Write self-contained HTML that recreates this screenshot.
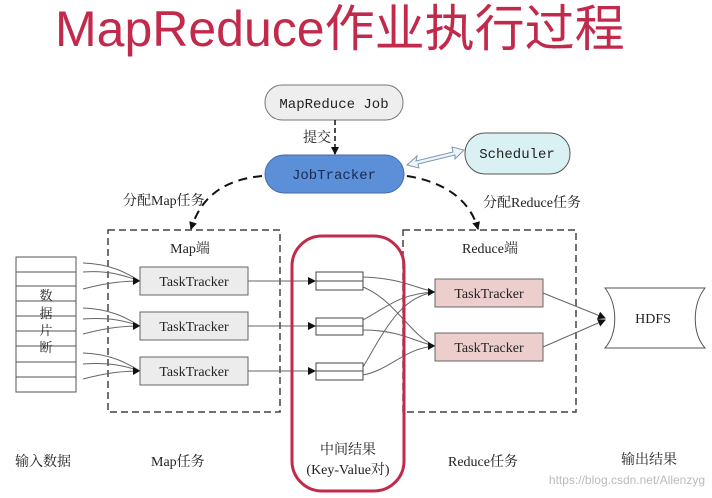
<!DOCTYPE html>
<html><head><meta charset="utf-8"><style>
body{margin:0;background:#fff;width:712px;height:498px;overflow:hidden}
svg{display:block}
text{font-family:"Liberation Serif","Noto Serif CJK SC",serif;fill:#222}
</style></head><body>
<svg width="712" height="498" viewBox="0 0 712 498">
<defs>
<marker id="a" markerWidth="8" markerHeight="8" refX="7" refY="4" orient="auto" markerUnits="userSpaceOnUse"><path d="M0,0L8,4L0,8z" fill="#111"/></marker>
</defs>
<text x="55" y="46" font-size="50" style="font-family:'Liberation Sans','Noto Sans CJK SC',sans-serif;fill:#c22a4c">MapReduce作业执行过程</text>

<rect x="265" y="85" width="138" height="35" rx="17" fill="#eee" stroke="#777"/>
<text x="334" y="108" font-size="14" text-anchor="middle" style="font-family:'Liberation Mono',monospace">MapReduce Job</text>
<line x1="335" y1="120" x2="335" y2="154" stroke="#111" stroke-width="1.5" stroke-dasharray="5,3" marker-end="url(#a)"/>
<text x="303" y="142" font-size="14">提交</text>
<rect x="265" y="155" width="139" height="38" rx="19" fill="#5b8fd8" stroke="#4a6aa8"/>
<text x="334" y="179" font-size="14" text-anchor="middle" style="font-family:'Liberation Mono',monospace;fill:#1a2a50">JobTracker</text>
<rect x="465" y="133" width="105" height="41" rx="20" fill="#d9f1f2" stroke="#555"/>
<text x="517" y="158" font-size="14" text-anchor="middle" style="font-family:'Liberation Mono',monospace">Scheduler</text>
<path d="M407,165 L417,156 L416,161 L453,152 L452,147 L464,150 L455,159 L455,155 L418,164 L419,168 z" fill="#eef4f8" stroke="#7a9ab0"/>
<path d="M262,176 C220,180 200,200 191,229" fill="none" stroke="#111" stroke-width="2" stroke-dasharray="9,6" marker-end="url(#a)"/>
<path d="M407,176 C445,182 470,200 478,229" fill="none" stroke="#111" stroke-width="2" stroke-dasharray="9,6" marker-end="url(#a)"/>
<text x="123" y="205" font-size="14">分配Map任务</text>
<text x="483" y="207" font-size="14">分配Reduce任务</text>

<rect x="108" y="230" width="172" height="182" fill="none" stroke="#444" stroke-width="1.5" stroke-dasharray="7,4"/>
<text x="190" y="253" font-size="14" text-anchor="middle">Map端</text>
<rect x="403" y="230" width="173" height="182" fill="none" stroke="#444" stroke-width="1.5" stroke-dasharray="7,4"/>
<text x="490" y="253" font-size="14" text-anchor="middle">Reduce端</text>

<g stroke="#555" fill="#fff">
<rect x="16" y="257" width="60" height="135"/>
<line x1="16" y1="272" x2="76" y2="272"/><line x1="16" y1="286" x2="76" y2="286"/>
<line x1="16" y1="301" x2="76" y2="301"/><line x1="16" y1="316" x2="76" y2="316"/>
<line x1="16" y1="331" x2="76" y2="331"/><line x1="16" y1="346" x2="76" y2="346"/>
<line x1="16" y1="362" x2="76" y2="362"/><line x1="16" y1="377" x2="76" y2="377"/>
</g>
<text x="46" y="300" font-size="13" text-anchor="middle">数</text>
<text x="46" y="318" font-size="13" text-anchor="middle">据</text>
<text x="46" y="335" font-size="13" text-anchor="middle">片</text>
<text x="46" y="352" font-size="13" text-anchor="middle">断</text>

<g fill="none" stroke="#666">
<path d="M83,263 C110,264 125,272 140,281"/><path d="M83,272 C110,270 125,276 140,281"/><path d="M83,289 C110,282 125,281 140,281"/>
<path d="M83,308 C110,309 125,317 140,326"/><path d="M83,319 C110,317 125,321 140,326"/><path d="M83,334 C110,327 125,326 140,326"/>
<path d="M83,353 C110,354 125,362 140,371"/><path d="M83,364 C110,362 125,366 140,371"/><path d="M83,379 C110,372 125,371 140,371"/>
</g>
<path d="M133,277L140,281L133,285z" fill="#111"/><path d="M133,322L140,326L133,330z" fill="#111"/><path d="M133,367L140,371L133,375z" fill="#111"/>

<g fill="#ececec" stroke="#666">
<rect x="140" y="267" width="108" height="28"/><rect x="140" y="312" width="108" height="28"/><rect x="140" y="357" width="108" height="28"/>
</g>
<g font-size="14" text-anchor="middle" style="font-family:'Liberation Mono',monospace">
<text x="194" y="286">TaskTracker</text><text x="194" y="331">TaskTracker</text><text x="194" y="376">TaskTracker</text>
</g>
<g stroke="#666"><line x1="248" y1="281" x2="315" y2="281" marker-end="url(#a)"/><line x1="248" y1="326" x2="315" y2="326" marker-end="url(#a)"/><line x1="248" y1="371" x2="315" y2="371" marker-end="url(#a)"/></g>

<g fill="#fff" stroke="#444">
<rect x="316" y="272" width="47" height="18"/><line x1="316" y1="281" x2="363" y2="281"/>
<rect x="316" y="318" width="47" height="17"/><line x1="316" y1="326" x2="363" y2="326"/>
<rect x="316" y="363" width="47" height="17"/><line x1="316" y1="371" x2="363" y2="371"/>
</g>
<g fill="none" stroke="#666">
<path d="M363,277 C400,278 415,288 435,292"/><path d="M363,287 C395,300 410,335 435,346"/>
<path d="M363,320 C390,305 400,294 435,292"/><path d="M363,330 C400,330 415,342 435,346"/>
<path d="M363,367 C385,330 400,297 435,292"/><path d="M363,375 C390,370 405,348 435,346"/>
</g>
<path d="M428,288L435,292L428,296z" fill="#111"/><path d="M428,342L435,346L428,350z" fill="#111"/>

<rect x="292" y="236" width="112" height="255" rx="30" fill="none" stroke="#c22a4c" stroke-width="3"/>

<g fill="#eccfcc" stroke="#666">
<rect x="435" y="279" width="108" height="28"/><rect x="435" y="333" width="108" height="28"/>
</g>
<g font-size="14" text-anchor="middle" style="font-family:'Liberation Mono',monospace">
<text x="489" y="298">TaskTracker</text><text x="489" y="352">TaskTracker</text>
</g>
<g stroke="#666"><line x1="543" y1="293" x2="605" y2="318" marker-end="url(#a)"/><line x1="543" y1="347" x2="605" y2="320" marker-end="url(#a)"/></g>
<path d="M605,288 L705,288 C692,305 692,333 705,348 L605,348 C618,333 618,305 605,288z" fill="#fff" stroke="#555"/>
<text x="653" y="323" font-size="14" text-anchor="middle">HDFS</text>

<g font-size="14">
<text x="15" y="466">输入数据</text>
<text x="151" y="466">Map任务</text>
<text x="348" y="454" text-anchor="middle">中间结果</text>
<text x="348" y="474" text-anchor="middle">(Key-Value对)</text>
<text x="448" y="466">Reduce任务</text>
<text x="621" y="464">输出结果</text>
</g>
<text x="705" y="484" font-size="12" text-anchor="end" style="font-family:'Liberation Sans',sans-serif;fill:#bbb">https://blog.csdn.net/Allenzyg</text>
</svg>
</body></html>
